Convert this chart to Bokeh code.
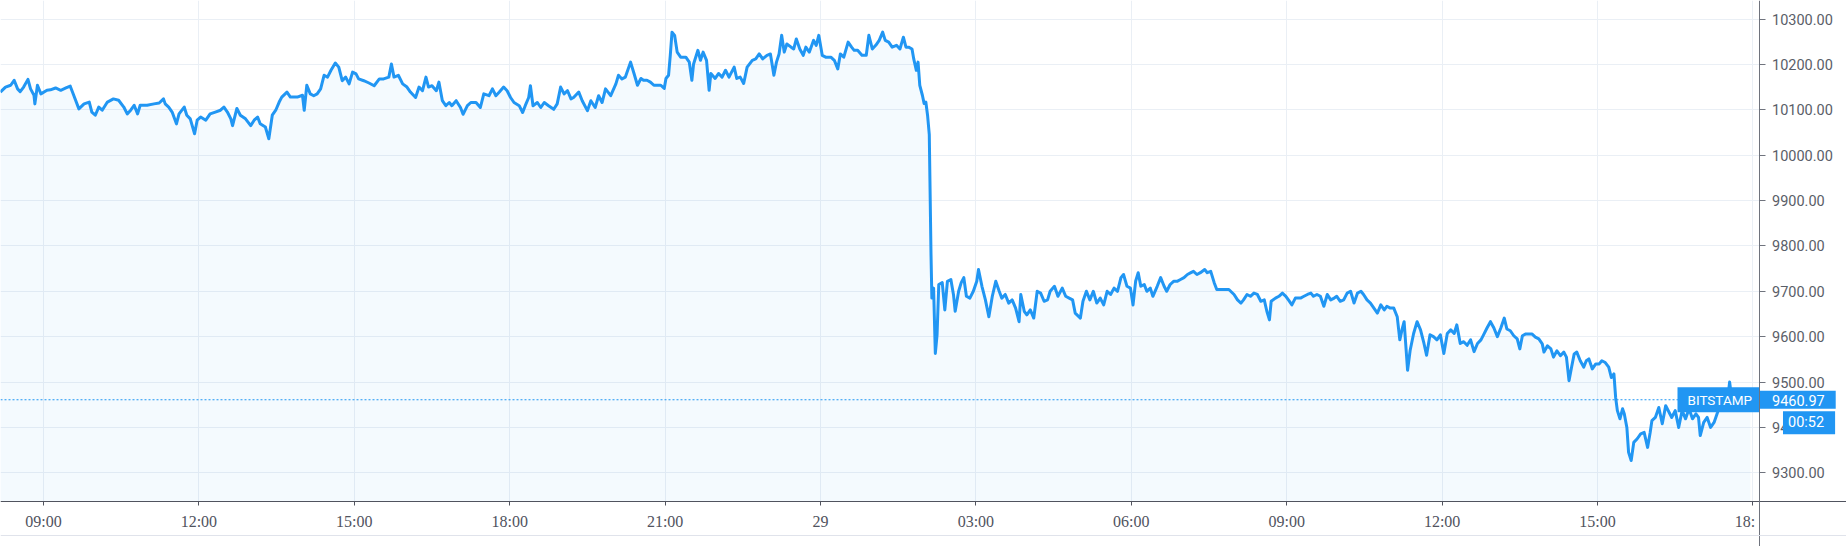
from datetime import datetime, timedelta

from bokeh.plotting import figure
from bokeh.models import (Range1d, FixedTicker, NumeralTickFormatter, Span, Label, ColumnDataSource,
                          DatetimeAxis, LinearAxis, Grid, BoxAnnotation)
from bokeh.embed import file_html
from bokeh.resources import INLINE

# ---------------- data ----------------
BASE_DAY = "2019-08-28 00:00"   # day shown left of the "29" tick
# minutes after BASE_DAY for every traced point of the BITSTAMP price line
minutes = [
    490, 496, 502, 506, 510, 513, 517, 522, 525, 529, 530, 533, 537, 544, 548, 554, 560, 566, 571, 575,
    581, 587, 593, 596, 600, 604, 608, 614, 621, 627, 633, 637, 641, 645, 649, 652, 660, 668, 674, 679,
    681, 685, 689, 694, 697, 703, 706, 710, 715, 718, 722, 728, 733, 739, 745, 749, 753, 757, 759, 764,
    768, 774, 780, 784, 788, 791, 797, 801, 805, 809, 813, 816, 822, 826, 834, 840, 842, 845,
    849, 853, 857, 861, 865, 869, 873, 878, 882, 886, 890, 894, 898, 902, 905, 911, 917, 923, 929, 934,
    940, 943, 946, 951, 956, 961, 965, 971, 975, 979, 983, 986, 990, 995, 998, 1002, 1006, 1010, 1013, 1018,
    1023, 1026, 1031, 1035, 1041, 1046, 1050, 1056, 1060, 1064, 1068, 1073, 1077, 1081, 1085, 1091, 1095, 1098,
    1102, 1104, 1107, 1112, 1116, 1120, 1125, 1131, 1135, 1139, 1143, 1147, 1151, 1154, 1160, 1164, 1170, 1174,
    1179, 1183, 1187, 1191, 1197, 1203, 1206, 1210, 1214,
    1216, 1220, 1224, 1228, 1232, 1235, 1239, 1243, 1247, 1251, 1255, 1259, 1261, 1264, 1266, 1268, 1271, 1274,
    1278, 1284, 1288, 1291, 1293, 1298, 1301, 1304, 1308, 1311, 1313, 1318, 1322, 1326, 1330, 1334, 1340, 1343,
    1347, 1351, 1355, 1361, 1365, 1369, 1373, 1378, 1382, 1386, 1389, 1392, 1395, 1398, 1401, 1406, 1409, 1412,
    1416, 1420, 1423, 1427, 1432, 1435, 1438, 1442, 1446, 1452, 1456, 1460, 1463, 1467, 1472, 1476, 1479, 1483,
    1488, 1493, 1496, 1500, 1504, 1508, 1512, 1515, 1519, 1523, 1528, 1532, 1536, 1539, 1542, 1546, 1548, 1551,
    1553, 1555, 1558, 1560, 1562, 1564, 1566,
    1568, 1569, 1571, 1573, 1575, 1577, 1581, 1584, 1587, 1591, 1594, 1596, 1600, 1603, 1606, 1609, 1613, 1617,
    1621, 1623, 1627, 1631, 1635, 1639, 1643, 1647, 1650, 1654, 1658, 1662, 1666, 1670, 1672, 1676, 1679, 1683,
    1687, 1691, 1695, 1699, 1703, 1706, 1711, 1715, 1720, 1724, 1728, 1732, 1735, 1741, 1744, 1748, 1752, 1756,
    1760, 1764, 1768, 1772, 1776, 1780, 1784, 1788, 1791, 1795, 1799, 1802, 1805, 1808, 1811, 1815, 1818, 1822,
    1825, 1830, 1834, 1838, 1841, 1845, 1849, 1853, 1857, 1861, 1865, 1869, 1872, 1876, 1880, 1885, 1888, 1892,
    1896, 1899,
    1907, 1913, 1919, 1923, 1927, 1930, 1934, 1938, 1942, 1946, 1950, 1954, 1957, 1960, 1962, 1967, 1971, 1975,
    1979, 1982, 1986, 1990, 1996, 2000, 2004, 2008, 2011, 2015, 2019, 2023, 2027, 2031, 2035, 2038, 2042, 2046,
    2050, 2054, 2058, 2062, 2066, 2069, 2073, 2077, 2081, 2085, 2089, 2093, 2096, 2100, 2104, 2108, 2111, 2114,
    2116, 2120, 2123, 2127, 2131, 2135, 2139, 2142, 2146, 2150, 2154, 2158, 2162, 2166, 2170, 2174, 2177, 2181,
    2185, 2189, 2193, 2197, 2201, 2205, 2208, 2212, 2216, 2220, 2224, 2228, 2232,
    2235, 2239, 2243, 2247, 2250, 2253, 2257, 2260, 2264, 2268, 2272, 2276, 2278, 2282, 2286, 2289, 2293, 2297,
    2301, 2304, 2307, 2310, 2313, 2316, 2320, 2324, 2327, 2330, 2334, 2338, 2342, 2345, 2349, 2353, 2356, 2359,
    2361, 2363, 2366, 2369, 2371, 2374, 2376, 2379, 2382, 2386, 2390, 2394, 2398, 2401, 2403, 2407, 2411, 2415,
    2419, 2423, 2426, 2430, 2434, 2438, 2442, 2446, 2450, 2454, 2457, 2459, 2463, 2467, 2471, 2475, 2479, 2482,
    2486, 2490, 2493, 2496, 2502, 2508, 2513, 2517,
]
prices = [
    10139, 10150, 10154, 10165, 10146, 10140, 10150, 10167, 10146, 10132, 10113, 10154, 10135, 10143, 10144, 10148, 10143, 10148, 10152, 10132,
    10102, 10113, 10117, 10095, 10088, 10106, 10099, 10117, 10124, 10121, 10106, 10091, 10099, 10110, 10091, 10110, 10110, 10113, 10115, 10124,
    10113, 10106, 10095, 10069, 10091, 10106, 10088, 10080, 10047, 10077, 10084, 10077, 10091, 10095, 10099, 10106, 10095, 10080, 10065, 10103,
    10088, 10080, 10065, 10077, 10084, 10069, 10062, 10036, 10088, 10099, 10117, 10128, 10139, 10128, 10128, 10132, 10099, 10154,
    10135, 10131, 10135, 10146, 10176, 10172, 10187, 10203, 10194, 10164, 10172, 10157, 10183, 10179, 10168, 10164, 10159, 10153, 10168, 10168,
    10172, 10201, 10172, 10176, 10157, 10150, 10139, 10127, 10150, 10142, 10172, 10150, 10153, 10142, 10161, 10120, 10109, 10116, 10109, 10120,
    10105, 10090, 10109, 10116, 10116, 10105, 10135, 10131, 10146, 10131, 10139, 10150, 10142, 10127, 10116, 10109, 10094, 10109,
    10127, 10153, 10109, 10116, 10105, 10116, 10109, 10101, 10113, 10150, 10135, 10142, 10124, 10127, 10139, 10120, 10098, 10120,
    10105, 10131, 10116, 10146, 10131, 10157, 10176, 10168, 10172,
    10183, 10205, 10180, 10154, 10169, 10165, 10165, 10161, 10154, 10154, 10154, 10147, 10169, 10176, 10220, 10271, 10264, 10227,
    10216, 10216, 10205, 10165, 10201, 10231, 10209, 10227, 10209, 10143, 10180, 10169, 10180, 10172, 10187, 10172, 10194, 10169,
    10172, 10158, 10194, 10209, 10212, 10223, 10212, 10220, 10223, 10176, 10205, 10223, 10264, 10227, 10245, 10238, 10234, 10256,
    10234, 10220, 10238, 10227, 10253, 10242, 10264, 10220, 10216, 10216, 10209, 10190, 10223, 10216, 10249, 10238, 10231, 10231,
    10220, 10220, 10264, 10234, 10242, 10253, 10271, 10253, 10249, 10238, 10242, 10234, 10260, 10238, 10238, 10234, 10212, 10187,
    10205, 10154, 10132, 10114, 10117, 10088, 10045,
    9781, 9685, 9707, 9563, 9604, 9715, 9719, 9659, 9722, 9726, 9693, 9656, 9700, 9719, 9730, 9689, 9685, 9700,
    9722, 9748, 9711, 9681, 9644, 9689, 9722, 9700, 9685, 9693, 9674, 9681, 9663, 9633, 9693, 9656, 9648, 9659,
    9641, 9700, 9696, 9678, 9681, 9700, 9711, 9689, 9707, 9689, 9685, 9681, 9652, 9641, 9678, 9700, 9681, 9700,
    9674, 9685, 9670, 9700, 9693, 9707, 9700, 9730, 9737, 9711, 9707, 9670, 9722, 9741, 9711, 9715, 9700, 9707,
    9689, 9711, 9730, 9711, 9700, 9715, 9722, 9722, 9726, 9730, 9737, 9741, 9744, 9737, 9741, 9748, 9741, 9744,
    9719, 9704,
    9704, 9704, 9693, 9681, 9674, 9681, 9693, 9689, 9696, 9693, 9678, 9681, 9656, 9637, 9678, 9685, 9689, 9696,
    9689, 9681, 9670, 9685, 9685, 9689, 9693, 9696, 9689, 9693, 9689, 9667, 9693, 9681, 9685, 9689, 9678, 9681,
    9696, 9700, 9674, 9696, 9700, 9693, 9681, 9674, 9663, 9652, 9670, 9659, 9667, 9663, 9663, 9644, 9593, 9619,
    9633, 9526, 9570, 9607, 9633, 9615, 9585, 9559, 9604, 9600, 9593, 9604, 9563, 9607, 9615, 9607, 9626, 9585,
    9589, 9581, 9593, 9567, 9585, 9593, 9604, 9619, 9633, 9619, 9600, 9619, 9641,
    9617, 9613, 9602, 9595, 9573, 9602, 9606, 9606, 9606, 9599, 9595, 9584, 9566, 9580, 9573, 9555, 9569, 9558,
    9566, 9555, 9503, 9533, 9562, 9566, 9547, 9533, 9547, 9551, 9529, 9540, 9540, 9547, 9543, 9533, 9510, 9518,
    9466, 9437, 9419, 9441, 9430, 9400, 9345, 9327, 9367, 9375, 9386, 9389, 9356, 9389, 9415, 9422, 9444, 9408,
    9448, 9433, 9422, 9437, 9400, 9437, 9419, 9441, 9419, 9430, 9422, 9382, 9411, 9422, 9400, 9411, 9433, 9452,
    9448, 9448, 9500, 9455, 9452, 9444, 9452, 9460.97,
]
series_name = "BITSTAMP"
last_price = 9460.97
countdown = "00:52"
y_ticks = [9300, 9400, 9500, 9600, 9700, 9800, 9900, 10000, 10100, 10200, 10300]
x_tick_times = ["2019-08-28 09:00", "2019-08-28 12:00", "2019-08-28 15:00", "2019-08-28 18:00",
                "2019-08-28 21:00", "2019-08-29 00:00", "2019-08-29 03:00", "2019-08-29 06:00",
                "2019-08-29 09:00", "2019-08-29 12:00", "2019-08-29 15:00", "2019-08-29 18:00"]
x_tick_labels = ["09:00", "12:00", "15:00", "18:00", "21:00", "29", "03:00", "06:00",
                 "09:00", "12:00", "15:00", "18:\u2007\u2007"]   # last label cut by the price scale

# ---------------- build ----------------
EPOCH = datetime(1970, 1, 1)
base = datetime.fromisoformat(BASE_DAY)


def ms(dt):
    return (dt - EPOCH).total_seconds() * 1000.0


def at_min(m):
    return ms(base + timedelta(minutes=m))


t = [at_min(m) for m in minutes]
tick_ms = [ms(datetime.fromisoformat(s)) for s in x_tick_times]

# view window (the whole canvas is the plot frame; the axes sit at fixed places inside it)
XS, XE = at_min(490.2), at_min(2628.4)
YB, YT = 9137.6, 10340.8
PRICE_SCALE_X = at_min(2528.2)      # where the price scale begins
TIME_SCALE_Y = 9235.7               # where the time scale begins
FOOT_Y = 9161.8                     # thin rule under the time scale

BLUE = "#2196F3"
GRID = "#EAEFF5"
FONT = "Roboto"

p = figure(width=1846, height=546, x_range=Range1d(XS, XE), y_range=Range1d(YB, YT),
           x_axis_type=None, y_axis_type=None, output_backend="svg", toolbar_location=None,
           min_border=0, outline_line_color=None,
           background_fill_color="white", border_fill_color="white")

xt = FixedTicker(ticks=tick_ms)
yt = FixedTicker(ticks=y_ticks)
p.add_layout(Grid(dimension=0, ticker=xt, grid_line_color=GRID))
p.add_layout(Grid(dimension=1, ticker=yt, grid_line_color=GRID))

p.add_layout(Span(location=last_price, dimension="width", line_color=BLUE,
                  line_width=1, line_dash="2 2", level="underlay"))

# blank the price-scale and time-scale areas
p.add_layout(BoxAnnotation(left=PRICE_SCALE_X, right=XE, bottom=YB, top=YT, fill_color="white",
                           fill_alpha=1, line_alpha=0, level="underlay"))
p.add_layout(BoxAnnotation(left=XS, right=XE, bottom=YB, top=TIME_SCALE_Y, fill_color="white",
                           fill_alpha=1, line_alpha=0, level="underlay"))

src = ColumnDataSource(dict(t=t, price=prices, base=[TIME_SCALE_Y] * len(t)))
p.varea(x="t", y1="base", y2="price", source=src, fill_color=BLUE, fill_alpha=0.05)
p.line(x="t", y="price", source=src, line_color=BLUE, line_width=3, line_join="round")

# time axis
xaxis = DatetimeAxis(ticker=xt, fixed_location=TIME_SCALE_Y)
xaxis.major_label_overrides = {tm: lab for tm, lab in zip(tick_ms, x_tick_labels)}
xaxis.axis_line_color = "#50535E"
xaxis.major_tick_line_color = "#50535E"
xaxis.major_tick_out = 4
xaxis.major_tick_in = 0
xaxis.minor_tick_line_color = None
xaxis.major_label_standoff = 7
xaxis.major_label_text_font = "Liberation Sans Narrow"
xaxis.major_label_text_font_size = "16px"
xaxis.major_label_text_color = "#50535E"
p.add_layout(xaxis, "below")

# price axis
yaxis = LinearAxis(ticker=yt, fixed_location=PRICE_SCALE_X, formatter=NumeralTickFormatter(format="0.00"))
yaxis.axis_line_color = "#6F737D"
yaxis.major_tick_line_color = "#6F737D"
yaxis.major_tick_out = 6
yaxis.major_tick_in = 0
yaxis.minor_tick_line_color = None
yaxis.major_label_standoff = 6
yaxis.major_label_text_font = FONT
yaxis.major_label_text_font_size = "14.5px"
yaxis.major_label_text_color = "#5A5E68"
p.add_layout(yaxis, "right")

p.add_layout(Span(location=FOOT_Y, dimension="width", line_color="#E0E3EB", line_width=1))

# price labels
common = dict(text_font=FONT, text_color="white", background_fill_color=BLUE, text_baseline="middle")
p.add_layout(Label(x=PRICE_SCALE_X, y=last_price, text=series_name, text_align="right", x_offset=-1,
                   text_font_size="13.5px", padding=dict(left=10, right=7, top=5, bottom=4), **common))
p.add_layout(Label(x=PRICE_SCALE_X, y=last_price, text=f"{last_price:.2f}", text_align="left", x_offset=0,
                   text_font_size="14.5px", padding=dict(left=12, right=11, top=4, bottom=3), **common))
p.add_layout(Label(x=PRICE_SCALE_X, y=last_price, text=countdown, text_align="left", x_offset=23,
                   y_offset=-23, text_font_size="14.5px",
                   padding=dict(left=5, right=11, top=3, bottom=3), **common))

open("out.html", "w").write(file_html(p, INLINE))
